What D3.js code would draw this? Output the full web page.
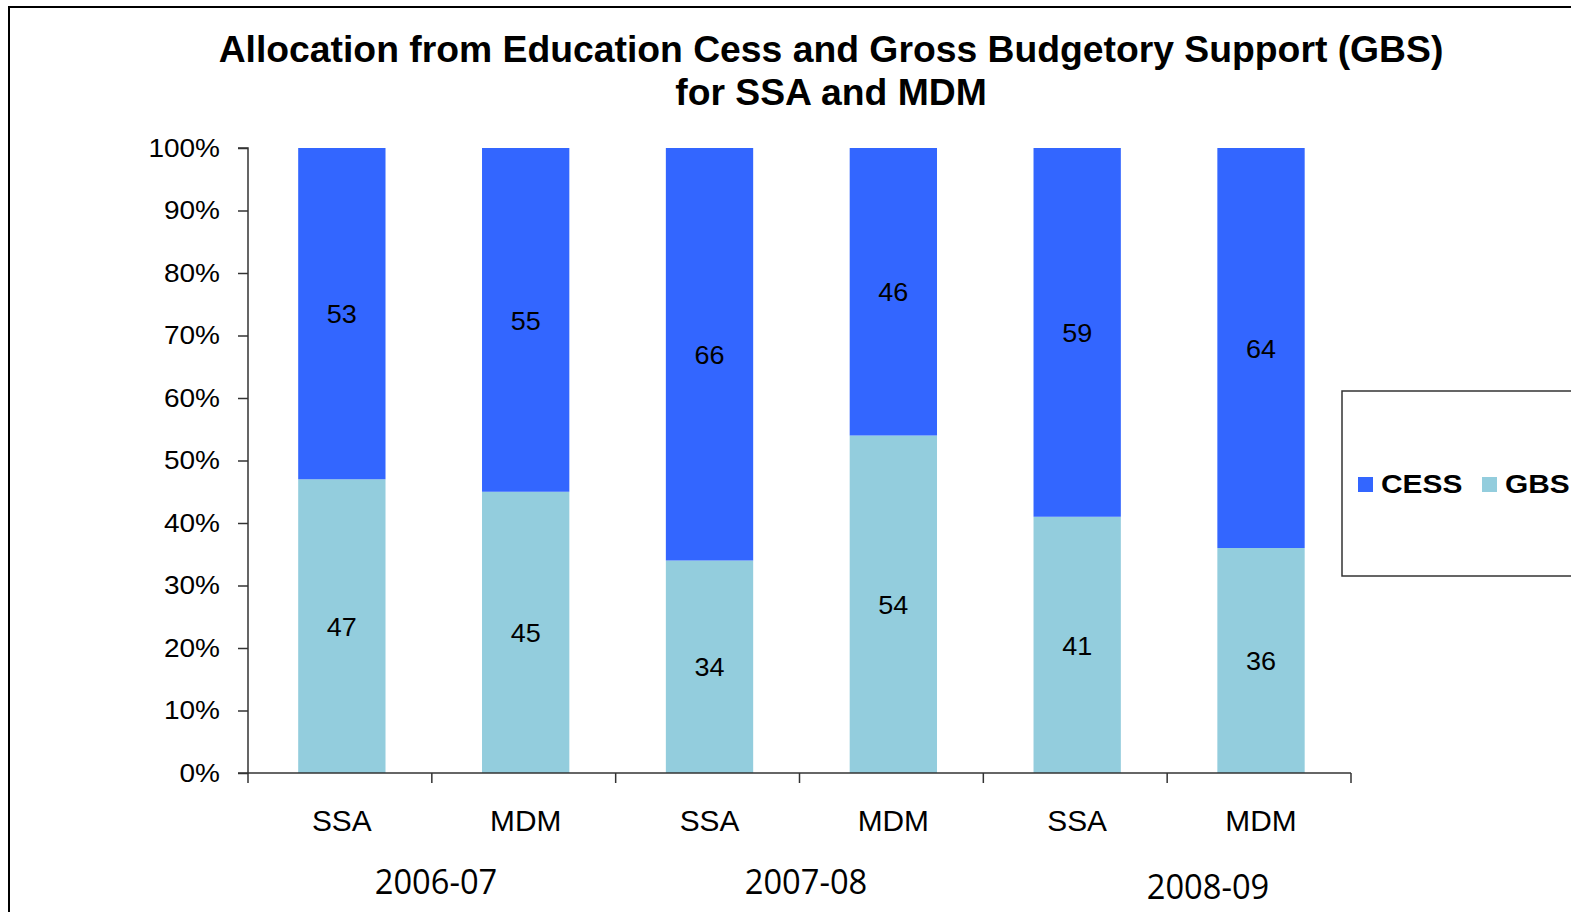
<!DOCTYPE html>
<html>
<head>
<meta charset="utf-8">
<script src="https://cdn.jsdelivr.net/npm/d3@7/dist/d3.min.js"></script>
<style>
  html, body { margin: 0; padding: 0; background: #fff; }
  svg { display: block; }
</style>
</head>
<body>
<svg id="chart" width="1571" height="912"></svg>
<script>
// Bars: scheme per year
const categories = ["SSA", "MDM", "SSA", "MDM", "SSA", "MDM"];
const years = ["2006-07", "2007-08", "2008-09"];
// Share of allocation (%) in each bar
const gbs  = [47, 45, 34, 54, 41, 36];
const cess = [53, 55, 66, 46, 59, 64];
const yTicks = [0, 10, 20, 30, 40, 50, 60, 70, 80, 90, 100];
const seriesNames = ["CESS", "GBS"];
const colors = { CESS: "#3366FF", GBS: "#93CDDD" };

(function () {
const svg = d3.select("#chart");
const font = "'Liberation Sans', Arial, sans-serif";

// widen glyphs horizontally while keeping the anchor point in place
function widen(sel, sx) {
  sel.each(function () {
    const t = d3.select(this);
    const x0 = +t.attr("x") || 0;
    t.attr("x", x0 / sx).attr("transform", `scale(${sx},1)`);
  });
}

// outer frame
svg.append("path")
  .attr("d", "M9,912 V7 H1571")
  .attr("fill", "none").attr("stroke", "#000").attr("stroke-width", 2);

// title
const title = svg.append("text")
  .attr("text-anchor", "middle")
  .attr("font-family", font).attr("font-weight", "bold")
  .attr("font-size", 37.3).attr("fill", "#000");
title.append("tspan").attr("x", 831).attr("y", 62)
  .text("Allocation from Education Cess and Gross Budgetory Support (GBS)");
title.append("tspan").attr("x", 831).attr("y", 105)
  .text("for SSA and MDM");

const plotLeft = 248, plotRight = 1351, plotTop = 148, plotBottom = 773;

const idx = categories.map((d, i) => i);
const x = d3.scaleBand().domain(idx).range([plotLeft, plotRight])
  .paddingInner(0.525).paddingOuter(0.2625).align(0.52);
const y = d3.scaleLinear().domain([0, 100]).range([plotBottom, plotTop]);

const rows = idx.map(i => ({ i, GBS: gbs[i], CESS: cess[i] }));
const stack = d3.stack().keys(["GBS", "CESS"])(rows);

const g = svg.append("g");
stack.forEach(layer => {
  g.selectAll(null).data(layer).enter().append("rect")
    .attr("x", d => x(d.data.i))
    .attr("width", x.bandwidth())
    .attr("y", d => y(d[1]))
    .attr("height", d => y(d[0]) - y(d[1]))
    .attr("fill", colors[layer.key]);
  const labels = g.selectAll(null).data(layer).enter().append("text")
    .attr("x", d => x(d.data.i) + x.bandwidth() / 2)
    .attr("y", d => (y(d[0]) + y(d[1])) / 2 + 1)
    .attr("dy", "0.35em")
    .attr("text-anchor", "middle")
    .attr("font-family", font).attr("font-size", 25).attr("fill", "#000")
    .text(d => d.data[layer.key]);
  widen(labels, 1.08);
});

// y axis
const yAxis = svg.append("g").attr("transform", `translate(${plotLeft},0)`)
  .call(d3.axisLeft(y).tickValues(yTicks).tickFormat(d => d + "%").tickSize(10).tickPadding(18));
yAxis.select(".domain").attr("stroke", "#333").attr("stroke-width", 1.5)
  .attr("d", `M-10,${plotTop}H0V${plotBottom}H-10`);
yAxis.selectAll(".tick line").attr("stroke", "#333").attr("stroke-width", 1.5);
const yLabels = yAxis.selectAll(".tick text")
  .attr("font-family", font).attr("font-size", 25).attr("fill", "#000");
widen(yLabels, 1.12);

// x axis with boundary ticks
const xAxisG = svg.append("g");
xAxisG.append("line").attr("x1", plotLeft).attr("x2", plotRight).attr("y1", plotBottom).attr("y2", plotBottom)
  .attr("stroke", "#333").attr("stroke-width", 1.5);
const bounds = d3.range(categories.length + 1).map(k => plotLeft + k * (plotRight - plotLeft) / categories.length);
xAxisG.selectAll(null).data(bounds).enter().append("line")
  .attr("x1", d => d).attr("x2", d => d).attr("y1", plotBottom).attr("y2", plotBottom + 10)
  .attr("stroke", "#333").attr("stroke-width", 1.5);
const catLabels = xAxisG.selectAll(null).data(idx).enter().append("text")
  .attr("x", i => x(i) + x.bandwidth() / 2)
  .attr("y", 831)
  .attr("text-anchor", "middle")
  .attr("font-family", font).attr("font-size", 29).attr("fill", "#000")
  .text(i => categories[i]);
widen(catLabels, 1.03);

// year labels
const yearPos = [[436, 894], [806, 894], [1208, 899]];
const yearLabels = svg.selectAll(null).data(years).enter().append("text")
  .attr("x", (d, k) => yearPos[k][0])
  .attr("y", (d, k) => yearPos[k][1])
  .attr("text-anchor", "middle")
  .attr("font-family", "'Open Sans', 'DejaVu Sans', sans-serif")
  .attr("font-size", 34).attr("fill", "#000")
  .text(d => d);
widen(yearLabels, 0.96);

// legend
const lg = svg.append("g");
lg.append("rect").attr("x", 1342).attr("y", 391).attr("width", 260).attr("height", 185)
  .attr("fill", "#fff").attr("stroke", "#333").attr("stroke-width", 1.5);
const legX = [1358, 1482];
seriesNames.forEach((name, k) => {
  lg.append("rect").attr("x", legX[k]).attr("y", 477).attr("width", 15).attr("height", 15)
    .attr("fill", colors[name]);
  const t = lg.append("text").attr("x", legX[k] + 23).attr("y", 493)
    .attr("font-family", font).attr("font-weight", "bold").attr("font-size", 26).attr("fill", "#000")
    .text(name);
  widen(t, 1.15);
});
})();
</script>
</body>
</html>
